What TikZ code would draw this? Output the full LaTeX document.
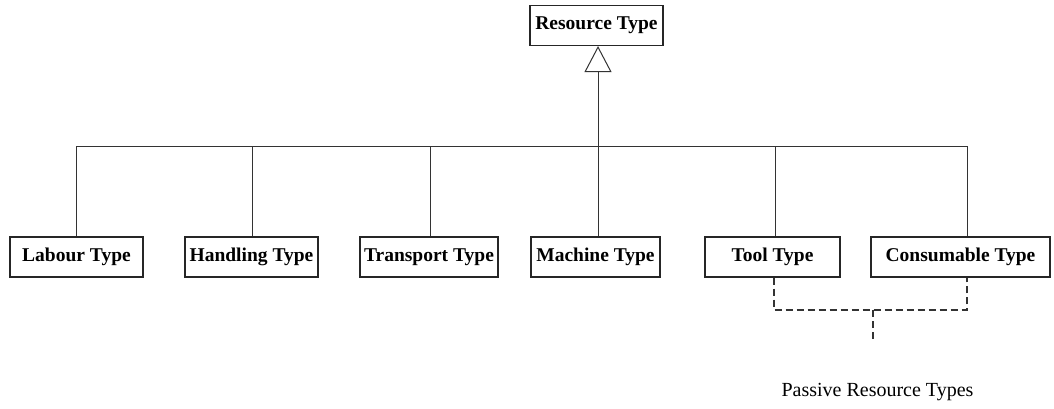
\documentclass[tikz,border=0pt]{standalone}
\usepackage{fontspec}
\setmainfont{Liberation Serif}
\usetikzlibrary{arrows.meta}
\begin{document}
\begin{tikzpicture}[x=1pt,y=-1pt,
  typebox/.style={draw=black!85, line width=1.1pt, fill=white, rectangle, inner sep=0pt,
    minimum height=40pt, font=\fontsize{19.5}{21}\selectfont\bfseries},
  link/.style={draw=black!80, line width=1pt},
  passive/.style={draw=black!80, line width=1.1pt, dash pattern=on 7pt off 4pt},
  gen/.style={-{Triangle[open, length=26pt, width=27pt, line width=1pt]}}
]
\useasboundingbox (0,0) rectangle (1054,408);

% supertype
\node[typebox, minimum width=133pt] (res) at (596.5,25.5) {Resource Type};

% subtypes
\node[typebox, minimum width=133pt] (lab) at (76.5,257)  {Labour Type};
\node[typebox, minimum width=133pt] (han) at (251.5,257) {Handling Type};
\node[typebox, minimum width=138pt] (tra) at (429,257)   {Transport Type};
\node[typebox, minimum width=129pt] (mac) at (595.5,257) {Machine Type};
\node[typebox, minimum width=135pt] (too) at (772.5,257) {Tool Type};
\node[typebox, minimum width=179pt] (con) at (960.5,257) {Consumable Type};

% junction points on the common bus
\coordinate (bl) at (76,146);
\coordinate (bh) at (252,146);
\coordinate (bt) at (430,146);
\coordinate (bm) at (598,146);
\coordinate (bo) at (775,146);
\coordinate (bc) at (967,146);

\draw[link] (bl) -- (bc);
\draw[link, gen] (bm) -- (res.south -| bm);
\foreach \b/\n in {bl/lab, bh/han, bt/tra, bm/mac, bo/too, bc/con}
  \draw[link] (\b) -- (\n.north -| \b);

% passive resource grouping
\coordinate (po) at (774,310);
\coordinate (pc) at (967,310);
\coordinate (pm) at (873,310);
\coordinate (pe) at (873,340);
\draw[passive] (too.south -| po) -- (po) -- (pc) -- (con.south -| pc);
\draw[passive] (pm) -- (pe);
\node[font=\fontsize{20}{22}\selectfont] (plab) at (877.5,392) {Passive Resource Types};
\end{tikzpicture}
\end{document}
